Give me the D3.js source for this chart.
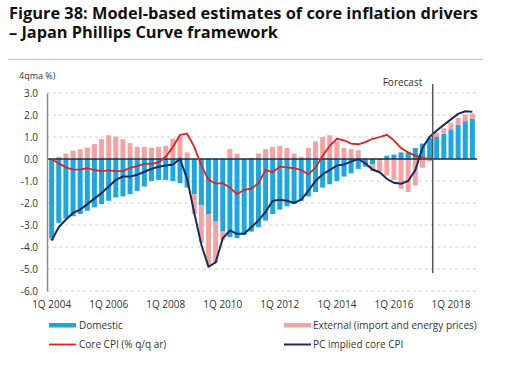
<!DOCTYPE html>
<html>
<head>
<meta charset="utf-8">
<script src="https://cdn.jsdelivr.net/npm/d3@7"></script>
<style>
  body { margin: 0; background: #fff; }
  text { font-family: "Open Sans", sans-serif; }
</style>
</head>
<body>
<svg id="chart" width="521" height="368"></svg>
<script>
// quarters 1Q 2004 .. 4Q 2018
var years = [2004, 2005, 2006, 2007, 2008, 2009, 2010, 2011, 2012, 2013, 2014, 2015, 2016, 2017, 2018];
var quarters = [];
years.forEach(function(y) { [1, 2, 3, 4].forEach(function(q) { quarters.push(q + "Q " + y); }); });

var tickLabels = ["1Q 2004", "1Q 2006", "1Q 2008", "1Q 2010", "1Q 2012", "1Q 2014", "1Q 2016", "1Q 2018"];
var yTicks = [3, 2, 1, 0, -1, -2, -3, -4, -5, -6];

var domestic = [-3.6, -2.9, -2.7, -2.6, -2.5, -2.35, -2.2, -2.05, -1.9, -1.75, -1.7, -1.6, -1.45, -1.25, -1.0, -0.95,
                -0.95, -1.0, -1.1, -1.3, -1.6, -2.1, -2.5, -2.85, -3.3, -3.55, -3.6, -3.45, -3.3, -3.1, -2.8, -2.5,
                -2.3, -2.15, -2.05, -1.9, -1.7, -1.5, -1.3, -1.15, -1.0, -0.8, -0.65, -0.45, -0.35, -0.25, -0.05, 0.15,
                0.2, 0.3, 0.3, 0.5, 0.7, 0.95, 1.0, 1.15, 1.35, 1.55, 1.72, 1.82];
var external = [-0.1, 0.1, 0.25, 0.38, 0.45, 0.52, 0.68, 0.9, 1.08, 1.02, 0.9, 0.72, 0.55, 0.55, 0.52, 0.55,
                0.6, 0.92, 1.05, 0.3, -0.9, -1.7, -2.3, -1.85, -0.4, 0.45, 0.25, 0.0, 0.05, 0.25, 0.45, 0.55,
                0.6, 0.5, 0.25, 0.1, 0.5, 0.8, 1.0, 1.08, 0.8, 0.5, 0.45, 0.4, 0.05, -0.3, -0.5, -0.75,
                -0.95, -1.35, -1.5, -1.2, -0.4, -0.1, 0.2, 0.25, 0.3, 0.32, 0.3, 0.25];
var coreCpi = [0.0, -0.2, -0.38, -0.48, -0.47, -0.42, -0.5, -0.55, -0.52, -0.55, -0.55, -0.4, -0.32, -0.22, -0.22, -0.15,
               0.1, 0.55, 1.1, 1.15, 0.55, -0.3, -0.95, -1.12, -1.1, -1.3, -1.6, -1.4, -1.35, -1.1, -0.5, -0.6,
               -0.35, -0.38, -0.42, -0.5, -0.7, -0.4, 0.15, 0.6, 0.92, 0.85, 0.7, 0.67, 0.77, 0.92, 1.0, 1.1,
               0.85, 0.5, 0.3, 0.15, 0.05, 0.0];
var pcImplied = [-3.7, -3.1, -2.75, -2.45, -2.3, -2.05, -1.8, -1.55, -1.25, -0.95, -0.8, -0.8, -0.72, -0.58, -0.45, -0.35,
                 -0.3, -0.25, 0.0, -0.9, -2.45, -3.9, -4.9, -4.7, -3.6, -3.25, -3.4, -3.4, -3.1, -2.8, -2.4, -1.9,
                 -1.85, -1.9, -2.0, -1.85, -1.45, -1.0, -0.7, -0.5, -0.3, -0.25, -0.12, 0.0, -0.2, -0.48, -0.6, -0.9,
                 -1.08, -1.12, -1.0, -0.5, 0.5, 1.0, 1.3, 1.55, 1.8, 2.05, 2.17, 2.15];
var forecastStart = "3Q 2017";

var blue = "#1ea6df", pink = "#f4a3a3", red = "#e3201e", navy = "#1b2a5c";

var svg = d3.select("#chart");

// title
svg.append("text").attr("x", 9).attr("y", 19)
    .attr("font-size", 15.5).attr("font-weight", 700).attr("fill", "#111")
    .attr("textLength", 469).attr("lengthAdjust", "spacingAndGlyphs")
    .text("Figure 38: Model-based estimates of core inflation drivers");
svg.append("text").attr("x", 9).attr("y", 38)
    .attr("font-size", 15.5).attr("font-weight", 700).attr("fill", "#111")
    .attr("textLength", 269).attr("lengthAdjust", "spacingAndGlyphs")
    .text("\u2013 Japan Phillips Curve framework");
svg.append("line").attr("x1", 8).attr("x2", 483).attr("y1", 59.5).attr("y2", 59.5)
    .attr("stroke", "#cfcfcf").attr("stroke-width", 1.5);

svg.append("text").attr("x", 19).attr("y", 79).attr("font-size", 9).attr("fill", "#333").text("4qma %)");

var x = d3.scaleBand().domain(quarters).range([47, 477]).padding(0.3);
var y = d3.scaleLinear().domain([-6, 3]).range([291, 93]);

// gridlines
svg.append("g").selectAll("line")
    .data(yTicks.filter(function(d) { return d !== 0; }))
    .enter().append("line")
    .attr("x1", 47).attr("x2", 477)
    .attr("y1", function(d) { return y(d); }).attr("y2", function(d) { return y(d); })
    .attr("stroke", "#d0d0d0").attr("stroke-dasharray", "3,3");

// stacked bars
var table = quarters.map(function(q, i) { return {q: q, domestic: domestic[i], external: external[i]}; });
var stack = d3.stack().keys(["domestic", "external"]).offset(d3.stackOffsetDiverging);
var series = stack(table);
var colors = {domestic: blue, external: pink};

svg.append("g").selectAll("g")
    .data(series)
    .enter().append("g")
    .attr("fill", function(s) { return colors[s.key]; })
  .selectAll("rect")
    .data(function(s) { return s; })
    .enter().append("rect")
    .attr("x", function(d) { return x(d.data.q); })
    .attr("width", x.bandwidth())
    .attr("y", function(d) { return y(Math.max(d[0], d[1])); })
    .attr("height", function(d) { return Math.abs(y(d[0]) - y(d[1])); });

// zero line
svg.append("line").attr("x1", 47).attr("x2", 477).attr("y1", y(0)).attr("y2", y(0))
    .attr("stroke", "#1d2b45").attr("stroke-width", 1.5);

// lines
var line = d3.line()
    .x(function(d, i) { return x(quarters[i]) + x.bandwidth() / 2; })
    .y(function(d) { return y(d); });

svg.append("path").datum(coreCpi).attr("d", line)
    .attr("fill", "none").attr("stroke", red).attr("stroke-width", 1.8);
svg.append("path").datum(pcImplied).attr("d", line)
    .attr("fill", "none").attr("stroke", navy).attr("stroke-width", 2);

// y axis
var yAxis = svg.append("g").attr("transform", "translate(47,0)")
    .call(d3.axisLeft(y).tickValues(yTicks).tickSize(0).tickPadding(9)
        .tickFormat(function(d) { return d.toFixed(1); }));
yAxis.select(".domain").attr("stroke", "#8a8a8a").attr("stroke-width", 1.5);
yAxis.selectAll("text").attr("font-size", 10).attr("fill", "#333")
    .style("font-family", "'Open Sans', sans-serif");

// x labels
svg.append("g").selectAll("text")
    .data(tickLabels)
    .enter().append("text")
    .attr("x", function(d) { return x(d) + x.bandwidth() / 2; })
    .attr("y", 308)
    .attr("text-anchor", "middle")
    .attr("font-size", 10).attr("fill", "#333")
    .text(function(d) { return d; });

// forecast marker
var fx = x(forecastStart) - 1.5;
svg.append("line").attr("x1", fx).attr("x2", fx).attr("y1", 84).attr("y2", 273)
    .attr("stroke", "#555").attr("stroke-width", 1.5);
svg.append("text").attr("x", fx - 50).attr("y", 86).attr("font-size", 10).attr("fill", "#333").text("Forecast");

// legend
var legend = svg.append("g");
legend.append("rect").attr("x", 49).attr("y", 323).attr("width", 27).attr("height", 4.5).attr("fill", blue);
legend.append("text").attr("x", 79).attr("y", 329).attr("font-size", 10).attr("fill", "#333").text("Domestic");
legend.append("rect").attr("x", 284).attr("y", 323).attr("width", 27).attr("height", 4.5).attr("fill", pink);
legend.append("text").attr("x", 313).attr("y", 329).attr("font-size", 10).attr("fill", "#333").text("External (import and energy prices)");
legend.append("line").attr("x1", 49).attr("x2", 76).attr("y1", 344.5).attr("y2", 344.5).attr("stroke", red).attr("stroke-width", 1.8);
legend.append("text").attr("x", 79).attr("y", 348).attr("font-size", 10).attr("fill", "#333").text("Core CPI (% q/q ar)");
legend.append("line").attr("x1", 284).attr("x2", 311).attr("y1", 344.5).attr("y2", 344.5).attr("stroke", navy).attr("stroke-width", 2);
legend.append("text").attr("x", 313).attr("y", 348).attr("font-size", 10).attr("fill", "#333").text("PC implied core CPI");
</script>
</body>
</html>
